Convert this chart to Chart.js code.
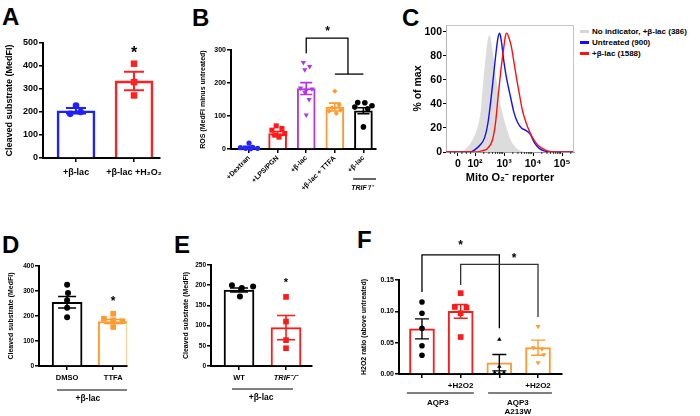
<!DOCTYPE html>
<html>
<head>
<meta charset="utf-8">
<script src="https://cdn.jsdelivr.net/npm/chart.js@4.4.0/dist/chart.umd.min.js"></script>
<style>
  body { margin: 0; width: 700px; height: 416px; background: #fff; position: relative; overflow: hidden;
         font-family: "Liberation Sans", Arial, sans-serif; }
  canvas { position: absolute; }
  .letter { position: absolute; font-weight: bold; font-size: 24px; line-height: 1; }
  .leg { position: absolute; left: 580px; font-size: 8px; font-weight: bold; line-height: 11px; white-space: nowrap; }
  .leg span { display: inline-block; width: 9px; height: 3px; margin-right: 3px; vertical-align: middle; }
</style>
</head>
<body>
<div class="letter" style="left:2px;top:5px">A</div>
<div class="letter" style="left:192px;top:6px">B</div>
<div class="letter" style="left:402px;top:6px">C</div>
<div class="letter" style="left:2px;top:233px">D</div>
<div class="letter" style="left:174px;top:233px">E</div>
<div class="letter" style="left:357px;top:228px">F</div>

<canvas id="chartA" width="175" height="205" style="left:0;top:0"></canvas>
<canvas id="chartB" width="190" height="210" style="left:190px;top:0"></canvas>
<canvas id="chartC" width="210" height="190" style="left:370px;top:0"></canvas>
<canvas id="chartD" width="140" height="196" style="left:0;top:220px"></canvas>
<canvas id="chartE" width="150" height="196" style="left:170px;top:220px"></canvas>
<canvas id="chartF" width="215" height="196" style="left:360px;top:220px"></canvas>

<div class="leg" style="top:26px"><span style="background:#d6d6d6"></span>No indicator, +β-lac (386)</div>
<div class="leg" style="top:37px"><span style="background:#1010ff"></span>Untreated (900)</div>
<div class="leg" style="top:48px"><span style="background:#ff1010"></span>+β-lac (1588)</div>

<script>
// Panel A
const aLabels = ["+β-lac", "+β-lac +H₂O₂"];
const aMeans = [205, 335];
const aSem = [12, 40];
const aColors = ["#1f1fff", "#ff2020"];
const aBlueDots = [228, 192, 200];
const aBlueDotsX = [0, -0.1, 0.08];
const aRedDots = [410, 330, 272];
const aRedDotsX = [0, 0, 0];
const aYTicks = [0, 100, 200, 300, 400, 500];

// Panel B
const bLabels = ["+Dextran", "+LPS/PGN", "+β-lac", "+β-lac + TTFA", "+β-lac"];
const bMeans = [5, 47, 183, 127, 116];
const bSem = [3, 6, 18, 12, 9];
const bColors = ["#2424ff", "#ff1a1a", "#b436e6", "#ff9a2e", "#000000"];
const bDextran = [18, 4, 2, 5, 2, 1];
const bDextranX = [0, -0.3, -0.12, 0.12, 0.3, 0.05];
const bLps = [70, 62, 57, 47, 42, 36];
const bLpsX = [-0.05, 0.15, -0.2, 0.25, -0.1, 0.05];
const bLac = [262, 250, 240, 185, 182, 178, 172, 150, 103];
const bLacX = [-0.1, 0.12, -0.05, -0.2, 0.2, 0, -0.05, 0.1, 0];
const bTtfa = [175, 133, 125, 118, 115, 108];
const bTtfaX = [0, 0.15, -0.1, 0.2, -0.2, 0.05];
const bTrif = [141, 140, 131, 127, 122, 67];
const bTrifX = [-0.2, 0.05, 0.3, -0.3, 0.15, 0];
const bYTicks = [0, 100, 200, 300];

// Panel C (x in decades of the biexponential axis)
const cTickVals = [1.41, 2, 3, 4, 5];
const cTickLabels = ["0", "10²", "10³", "10⁴", "10⁵"];
const cYTicks = [0, 20, 40, 60, 80, 100];
const cGrayX = [1.0, 1.51, 1.73, 1.91, 2.08, 2.20, 2.27, 2.37, 2.45, 2.51, 2.60, 2.71, 2.83, 2.94, 3.06, 3.23, 3.40, 3.57, 3.74];
const cGrayY = [0, 0, 4, 10, 20, 35, 55, 80, 95, 97, 85, 65, 45, 33, 22, 10, 4, 1, 0];
const cBlueX = [1.0, 1.85, 2.0, 2.18, 2.33, 2.45, 2.54, 2.63, 2.71, 2.79, 2.85, 2.91, 2.98, 3.06, 3.14, 3.23, 3.34, 3.46, 3.60, 3.75, 3.90, 4.04, 4.21, 4.38, 4.56, 5.41];
const cBlueY = [0, 0, 2, 6, 12, 25, 42, 62, 80, 95, 99, 92, 78, 65, 55, 45, 33, 25, 20, 18, 15, 8, 3, 1, 0, 0];
const cRedX = [1.0, 2.0, 2.23, 2.43, 2.60, 2.71, 2.79, 2.89, 2.98, 3.05, 3.09, 3.17, 3.25, 3.34, 3.44, 3.53, 3.63, 3.75, 3.86, 3.98, 4.15, 4.32, 4.49, 4.72, 5.41];
const cRedY = [0, 0, 1, 3, 10, 25, 45, 68, 85, 97, 99, 95, 88, 75, 60, 48, 35, 25, 18, 12, 6, 3, 1, 0, 0];

// Panel D
const dLabels = ["DMSO", "TTFA"];
const dMeans = [255, 178];
const dSem = [23, 8];
const dColors = ["#000000", "#ff9a2e"];
const dDmso = [325, 292, 263, 233, 195];
const dDmsoX = [0, 0.02, 0, 0, 0];
const dTtfa = [209, 189, 183, 179, 156];
const dTtfaX = [0, -0.2, 0, 0.2, 0];
const dYTicks = [0, 100, 200, 300, 400];

// Panel E
const eLabels = ["WT", "TRIF⁻/⁻"];
const eMeans = [188, 95];
const eSem = [5, 30];
const eColors = ["#000000", "#ff1a1a"];
const eWt = [200, 193, 197, 172];
const eWtX = [-0.15, 0.06, 0.3, 0.02];
const eTrif = [171, 110, 64, 44];
const eTrifX = [0, 0, 0, 0];
const eYTicks = [0, 50, 100, 150, 200, 250];

// Panel F
const fLabels = ["", "+H2O2", "", "+H2O2"];
const fMeans = [0.072, 0.100, 0.018, 0.042];
const fSem = [0.016, 0.011, 0.013, 0.012];
const fColors = ["#ff1a1a", "#ff1a1a", "#ff9a2e", "#ff9a2e"];
const fAqp = [0.115, 0.097, 0.073, 0.045, 0.030];
const fAqpX = [0, 0, 0, 0, 0];
const fAqpH = [0.129, 0.107, 0.106, 0.097, 0.059];
const fAqpHX = [0, -0.15, 0.15, 0, 0];
const fMut = [0.055, 0.012, 0.002, 0.001, 0.002];
const fMutX = [0, 0, -0.12, 0, 0.12];
const fMutH = [0.076, 0.042, 0.040, 0.031, 0.018];
const fMutHX = [0, -0.12, 0.1, 0.15, 0];
const fYTicks = [0, 0.05, 0.10, 0.15];
const fYLabels = ["0.00", "0.05", "0.10", "0.15"];

Chart.defaults.font.family = "'Liberation Sans', Arial, sans-serif";
Chart.defaults.font.weight = "bold";
Chart.defaults.color = "#000";
Chart.defaults.animation = false;
Chart.defaults.plugins.legend.display = false;
Chart.defaults.plugins.tooltip.enabled = false;

// error bars, stars, brackets and group labels
const extras = {
  id: "extras",
  afterDatasetDraw(chart, args, o) {
    if (args.index !== 0 || !o.errors) return;
    const { ctx } = chart;
    const xs = chart.scales.x, ys = chart.scales.y;
    const e = o.errors;
    ctx.save();
    e.mean.forEach((m, i) => {
      const x = xs.getPixelForValue(i);
      const hi = ys.getPixelForValue(m + e.sem[i]);
      const lo = ys.getPixelForValue(Math.max(0, m - e.sem[i]));
      ctx.strokeStyle = e.colors[i];
      ctx.lineWidth = e.width;
      ctx.beginPath();
      ctx.moveTo(x, hi); ctx.lineTo(x, lo);
      ctx.moveTo(x - e.cap, hi); ctx.lineTo(x + e.cap, hi);
      ctx.moveTo(x - e.cap, lo); ctx.lineTo(x + e.cap, lo);
      ctx.stroke();
    });
    ctx.restore();
  },
  afterDraw(chart, args, o) {
    const { ctx, chartArea } = chart;
    const xs = chart.scales.x, ys = chart.scales.y;
    ctx.save();
    (o.brackets || []).forEach(b => {
      ctx.strokeStyle = b.color || "#000";
      ctx.lineWidth = 1.3;
      ctx.beginPath();
      ctx.moveTo(xs.getPixelForValue(b.x1), ys.getPixelForValue(b.yl));
      ctx.lineTo(xs.getPixelForValue(b.x1), ys.getPixelForValue(b.y));
      ctx.lineTo(xs.getPixelForValue(b.x2), ys.getPixelForValue(b.y));
      ctx.lineTo(xs.getPixelForValue(b.x2), ys.getPixelForValue(b.yr));
      ctx.stroke();
    });
    (o.stars || []).forEach(s => {
      ctx.fillStyle = "#000";
      ctx.font = "bold " + s.size + "px 'Liberation Sans', Arial";
      ctx.textAlign = "center";
      ctx.textBaseline = "middle";
      ctx.fillText("*", xs.getPixelForValue(s.x), ys.getPixelForValue(s.y) + s.size * 0.23);
    });
    (o.groups || []).forEach(g => {
      const y0 = chartArea.bottom;
      if (g.x1 !== undefined) {
        ctx.strokeStyle = "#000";
        ctx.lineWidth = 1.2;
        ctx.beginPath();
        ctx.moveTo(xs.getPixelForValue(g.x1), y0 + g.dy);
        ctx.lineTo(xs.getPixelForValue(g.x2), y0 + g.dy);
        ctx.stroke();
      }
      (g.texts || []).forEach(t => {
        ctx.fillStyle = "#000";
        ctx.font = (t.italic ? "italic " : "") + "bold " + t.size + "px 'Liberation Sans', Arial";
        ctx.textAlign = "center";
        ctx.textBaseline = "middle";
        ctx.fillText(t.text, xs.getPixelForValue(t.x), y0 + t.dy);
      });
    });
    if (o.frame) {
      ctx.strokeStyle = o.frame;
      ctx.lineWidth = 1;
      ctx.beginPath();
      ctx.moveTo(chartArea.left, chartArea.top + 0.5);
      ctx.lineTo(chartArea.right - 0.5, chartArea.top + 0.5);
      ctx.lineTo(chartArea.right - 0.5, chartArea.bottom);
      ctx.stroke();
    }
    if (o.minor) {
      ctx.strokeStyle = "#000";
      ctx.lineWidth = 0.8;
      ctx.beginPath();
      o.minor.forEach(v => {
        const x = xs.getPixelForValue(v);
        ctx.moveTo(x, chartArea.bottom);
        ctx.lineTo(x, chartArea.bottom + 2);
      });
      ctx.stroke();
    }
    ctx.restore();
  }
};

function yAxis(min, max, ticks, labels, width, size, title, titleSize, titlePad) {
  return {
    type: "linear", min: min, max: max,
    afterBuildTicks: s => { s.ticks = ticks.map(v => ({ value: v })); },
    afterFit: s => { s.width = width; },
    border: { color: "#000", width: 2 },
    grid: { drawOnChartArea: false, color: "#000", lineWidth: 1.5, tickLength: 4 },
    ticks: { color: "#000", padding: 1, font: { size: size, weight: "bold" },
             callback: (v, i) => labels[i] },
    title: { display: true, text: title, color: "#000", font: { size: titleSize, weight: "bold" },
             padding: { top: titlePad, bottom: 0 } }
  };
}

function xAxis(min, max, labels, size, height, pad, extra) {
  const ax = {
    type: "linear", min: min, max: max, offset: false,
    afterBuildTicks: s => { s.ticks = labels.map((l, i) => ({ value: i })); },
    afterFit: s => { s.height = height; },
    border: { color: "#000", width: 2 },
    grid: { drawOnChartArea: false, offset: false, color: "#000", lineWidth: 1.5, tickLength: 4 },
    ticks: { color: "#000", padding: pad, autoSkip: false, maxRotation: 0, minRotation: 0,
             font: { size: size, weight: "bold" }, callback: (v, i) => labels[i] }
  };
  return Object.assign(ax, extra || {});
}

function bars(means, colors, thick, bw) {
  return { type: "bar", data: means.map((v, i) => ({ x: i, y: v })), backgroundColor: "#fff",
           borderColor: colors, borderWidth: bw, barThickness: thick, order: 2 };
}

function dots(vals, offs, group, color, style, r, rot) {
  return { type: "scatter", data: vals.map((v, i) => ({ x: group + offs[i], y: v })),
           backgroundColor: color, borderColor: color, borderWidth: 0, pointStyle: style,
           pointRadius: r, pointRotation: rot || 0, clip: false, order: 1 };
}

// A
new Chart("chartA", {
  type: "bar",
  data: { datasets: [
    bars(aMeans, aColors, 38, 2.6),
    dots(aBlueDots, aBlueDotsX, 0, aColors[0], "circle", 3.3),
    dots(aRedDots, aRedDotsX, 1, aColors[1], "rect", 4.6)
  ] },
  options: {
    responsive: false,
    layout: { padding: { top: 43, left: 0, right: 15, bottom: 0 } },
    scales: {
      x: xAxis(-0.569, 1.448, aLabels, 9, 47, 5),
      y: yAxis(0, 500, aYTicks, aYTicks.map(String), 43, 9, "Cleaved substrate (MedFI)", 9, 4)
    },
    plugins: { extras: {
      errors: { mean: aMeans, sem: aSem, colors: aColors, cap: 10, width: 2 },
      stars: [{ x: 1, y: 470, size: 16 }]
    } }
  },
  plugins: [extras]
});

// B
new Chart("chartB", {
  type: "bar",
  data: { datasets: [
    bars(bMeans, bColors, 18, 2),
    dots(bDextran, bDextranX, 0, bColors[0], "circle", 2.6),
    dots(bLps, bLpsX, 1, bColors[1], "rect", 3.6),
    dots(bLac, bLacX, 2, bColors[2], "triangle", 3, 180),
    dots(bTtfa, bTtfaX, 3, bColors[3], "rectRot", 2.6),
    dots(bTrif, bTrifX, 4, bColors[4], "circle", 2.8)
  ] },
  options: {
    responsive: false,
    layout: { padding: { top: 50, left: 0, right: 4, bottom: 0 } },
    scales: {
      x: xAxis(-0.63, 4.44, bLabels, 7, 61, 1, {}),
      y: yAxis(0, 300, bYTicks, bYTicks.map(String), 41, 7, "ROS (MedFI minus untreated)", 7, 9)
    },
    plugins: { extras: {
      errors: { mean: bMeans, sem: bSem, colors: bColors, cap: 6, width: 1.6 },
      brackets: [{ x1: 2, x2: 3.46, y: 336, yl: 290, yr: 227 }, { x1: 3, x2: 4, y: 227, yl: 227, yr: 227 }],
      stars: [{ x: 2.75, y: 364, size: 12 }],
      groups: [{ x1: 3.64, x2: 4.44, dy: 30, texts: [{ text: "TRIF⁻/⁻", x: 3.95, dy: 39, size: 7, italic: true }] }]
    } }
  },
  plugins: [extras]
});
Chart.getChart("chartB").options.scales.x.ticks.minRotation = 45;
Chart.getChart("chartB").options.scales.x.ticks.maxRotation = 45;
Chart.getChart("chartB").update();

// C
const toPts = (xs, ys) => xs.map((x, i) => ({ x: x, y: ys[i] }));
new Chart("chartC", {
  type: "line",
  data: { datasets: [
    { data: toPts(cGrayX, cGrayY), fill: "origin", backgroundColor: "#dcdcdc", borderWidth: 0,
      pointRadius: 0, cubicInterpolationMode: "monotone", order: 3 },
    { data: toPts(cBlueX, cBlueY), fill: false, borderColor: "#1010ff", borderWidth: 1.4,
      pointRadius: 0, cubicInterpolationMode: "monotone", order: 2 },
    { data: toPts(cRedX, cRedY), fill: false, borderColor: "#ff1010", borderWidth: 1.4,
      pointRadius: 0, cubicInterpolationMode: "monotone", order: 1 }
  ] },
  options: {
    responsive: false,
    layout: { padding: { top: 25, left: 41, right: 6, bottom: 0 } },
    scales: {
      x: {
        type: "linear", min: 1.0, max: 5.41,
        afterBuildTicks: s => { s.ticks = cTickVals.map(v => ({ value: v })); },
        afterFit: s => { s.height = 38; },
        border: { color: "#9a9a9a", width: 1 },
        grid: { drawOnChartArea: false, color: "#000", lineWidth: 1, tickLength: 4 },
        ticks: { color: "#000", padding: 2, maxRotation: 0, font: { size: 10.5, weight: "bold" },
                 callback: (v, i) => cTickLabels[i] },
        title: { display: true, text: "Mito O₂⁻ reporter", color: "#000",
                 font: { size: 11, weight: "bold" }, padding: { top: 0, bottom: 5 } }
      },
      y: {
        type: "linear", min: 0, max: 105.8,
        afterBuildTicks: s => { s.ticks = cYTicks.map(v => ({ value: v })); },
        afterFit: s => { s.width = 35; },
        border: { color: "#b5b5b5", width: 1 },
        grid: { drawOnChartArea: false, color: "#000", lineWidth: 1, tickLength: 3 },
        ticks: { color: "#000", padding: 1, font: { size: 10.5, weight: "bold" } },
        title: { display: true, text: "% of max", color: "#000", font: { size: 10.5, weight: "bold" },
                 padding: { top: 1, bottom: 0 } }
      }
    },
    plugins: { extras: {
      frame: "#c4c4c4",
      minor: [1.15, 1.3, 1.55, 1.7, 1.85, 2.3, 2.48, 2.6, 2.7, 2.78, 2.85, 2.9, 2.95,
              3.3, 3.48, 3.6, 3.7, 3.78, 3.85, 3.9, 3.95, 4.3, 4.48, 4.6, 4.7, 4.78, 4.85, 4.9, 4.95, 5.3]
    } }
  },
  plugins: [extras]
});

// D
new Chart("chartD", {
  type: "bar",
  data: { datasets: [
    bars(dMeans, dColors, 30, 2),
    dots(dDmso, dDmsoX, 0, dColors[0], "circle", 3),
    dots(dTtfa, dTtfaX, 1, dColors[1], "rect", 4)
  ] },
  options: {
    responsive: false,
    layout: { padding: { top: 46, left: 0, right: 13, bottom: 0 } },
    scales: {
      x: xAxis(-0.61, 1.30, dLabels, 7.5, 50, 3),
      y: yAxis(0, 400, dYTicks, dYTicks.map(String), 39, 6.5, "Cleaved substrate (MedFI)", 7, 7)
    },
    plugins: { extras: {
      errors: { mean: dMeans, sem: dSem, colors: dColors, cap: 9, width: 1.6 },
      stars: [{ x: 1, y: 269, size: 12 }],
      groups: [{ x1: -0.22, x2: 1.30, dy: 24, texts: [{ text: "+β-lac", x: 0.45, dy: 33, size: 8.5 }] }]
    } }
  },
  plugins: [extras]
});

// E
new Chart("chartE", {
  type: "bar",
  data: { datasets: [
    bars(eMeans, eColors, 30, 2),
    dots(eWt, eWtX, 0, eColors[0], "circle", 3),
    dots(eTrif, eTrifX, 1, eColors[1], "rect", 4)
  ] },
  options: {
    responsive: false,
    layout: { padding: { top: 45, left: 0, right: 8, bottom: 0 } },
    scales: {
      x: xAxis(-0.596, 1.553, eLabels, 7.5, 50, 3, {}),
      y: yAxis(0, 250, eYTicks, eYTicks.map(String), 41, 6.5, "Cleaved substrate (MedFI)", 7, 12)
    },
    plugins: { extras: {
      errors: { mean: eMeans, sem: eSem, colors: eColors, cap: 9, width: 1.6 },
      stars: [{ x: 1, y: 213, size: 11 }],
      groups: [{ x1: -0.15, x2: 1.15, dy: 23, texts: [{ text: "+β-lac", x: 0.47, dy: 32, size: 8.5 }] }]
    } }
  },
  plugins: [extras]
});
Chart.getChart("chartE").options.scales.x.ticks.font = c => ({ size: 7.5, weight: "bold", style: c.index === 1 ? "italic" : "normal" });
Chart.getChart("chartE").update();

// F
new Chart("chartF", {
  type: "bar",
  data: { datasets: [
    bars(fMeans, fColors, 25, 2),
    dots(fAqp, fAqpX, 0, "#000", "circle", 2.8),
    dots(fAqpH, fAqpHX, 1, "#ff1a1a", "rect", 4),
    dots(fMut, fMutX, 2, "#000", "triangle", 2.6),
    dots(fMutH, fMutHX, 3, "#ff9a2e", "triangle", 2.8, 180)
  ] },
  options: {
    responsive: false,
    layout: { padding: { top: 60, left: 0, right: 13, bottom: 0 } },
    scales: {
      x: xAxis(-0.594, 3.62, fLabels, 8, 42, 3),
      y: yAxis(0, 0.15, fYTicks, fYLabels, 39, 7, "H2O2 ratio (above untreated)", 7, 0)
    },
    plugins: { extras: {
      errors: { mean: fMeans, sem: fSem, colors: ["#000", "#ff1a1a", "#000", "#ff9a2e"], cap: 7, width: 1.4 },
      brackets: [{ x1: 0, x2: 2, y: 0.190, yl: 0.131, yr: 0.073 },
                 { x1: 1, x2: 3, y: 0.175, yl: 0.142, yr: 0.091, color: "#333" }],
      stars: [{ x: 1, y: 0.209, size: 12 }, { x: 2.38, y: 0.188, size: 12 }],
      groups: [
        { x1: -0.39, x2: 1.34, dy: 19, texts: [{ text: "AQP3", x: 0.41, dy: 29, size: 8 }] },
        { x1: 1.71, x2: 3.36, dy: 19, texts: [{ text: "AQP3", x: 2.48, dy: 29, size: 8 },
                                               { text: "A213W", x: 2.48, dy: 38, size: 8 }] }
      ]
    } }
  },
  plugins: [extras]
});
</script>
</body>
</html>
